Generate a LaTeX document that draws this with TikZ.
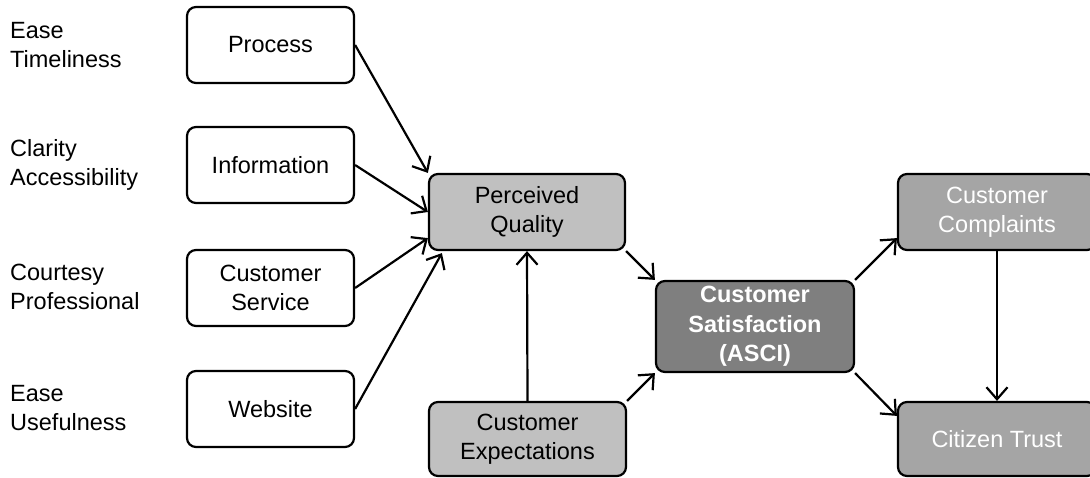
\documentclass[tikz,border=0pt]{standalone}
\usepackage{fontspec}
\setmainfont{Liberation Sans}
\usetikzlibrary{arrows.meta,calc}
\definecolor{lightbox}{HTML}{C0C0C0}
\definecolor{darkbox}{HTML}{7F7F7F}
\definecolor{midbox}{HTML}{A5A5A5}
\begin{document}
\begin{tikzpicture}[x=1pt,y=-1pt,
  every node/.style={font=\fontsize{23.5}{29.5}\selectfont},
  box/.style={draw=black, line width=2.2pt, rounded corners=9pt, align=center,
    inner sep=0pt, minimum height=76pt},
  driver/.style={box, fill=white, minimum width=167pt},
  quality/.style={box, fill=lightbox, minimum width=196pt},
  core/.style={box, fill=darkbox, text=white, font=\fontsize{23.5}{29.5}\selectfont\bfseries,
    minimum width=198pt, minimum height=91pt},
  outcome/.style={box, fill=midbox, text=white, minimum width=198pt},
  attr/.style={anchor=west, align=left, inner sep=0pt},
  link/.style={line width=2.2pt, -{Straight Barb[length=12pt,width=21pt]}}
]
\useasboundingbox (0,0) rectangle (1090,477);
\clip (0,0) rectangle (1090,477);
\fill[white] (0,0) rectangle (1090,477);

% attribute labels
\node[attr] (a1) at (10,45)  {Ease\\Timeliness};
\node[attr] (a2) at (10,165) {Clarity\\Accessibility};
\node[attr] (a3) at (10,287) {Courtesy\\Professional};
\node[attr] (a4) at (10,408) {Ease\\Usefulness};

% drivers
\node[driver] (proc) at (270.5,45)  {Process};
\node[driver] (info) at (270.5,165) {Information};
\node[driver] (serv) at (270.5,288) {Customer\\Service};
\node[driver] (web)  at (270.5,409) {Website};

% model
\node[quality] (pq) at (527,212)   {Perceived\\Quality};
\node[quality, minimum width=197pt, minimum height=74pt] (ce) at (527.5,439) {Customer\\Expectations};
\node[core] (cs) at (755,326.5) {Customer\\Satisfaction\\(ASCI)};
\node[outcome] (comp) at (997,212) {Customer\\Complaints};
\node[outcome, minimum height=74pt] (trust) at (997,439) {Citizen Trust};

% connectors
\draw[link] (proc.east) -- (pq.north west);
\draw[link] (info.east) -- (pq.west);
\draw[link] (serv.east) -- ($(pq.south west)+(0,-13)$);
\draw[link] (web.east) -- ($(pq.south west)+(14,2)$);
\draw[link] (ce.north) -- (pq.south);
\draw[link] (pq.south east) -- (cs.north west);
\draw[link] (ce.north east) -- (cs.south west);
\draw[link] (cs.north east) -- ($(comp.south west)+(0,-13)$);
\draw[link] (cs.south east) -- ($(trust.north west)+(0,15)$);
\draw[link] (comp.south) -- (trust.north);
\end{tikzpicture}
\end{document}
